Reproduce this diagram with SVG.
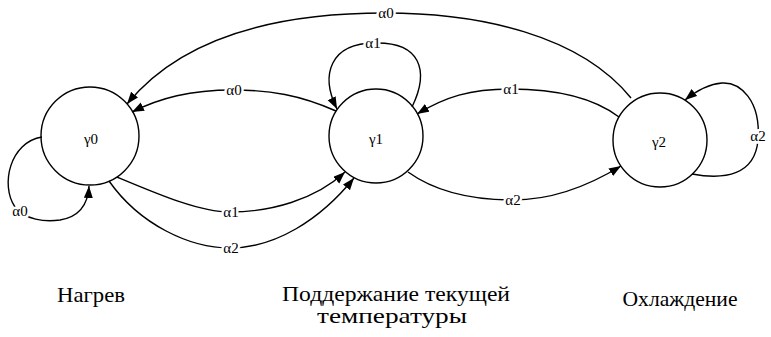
<svg xmlns="http://www.w3.org/2000/svg" width="771" height="337" viewBox="0 0 771 337">
<style>
.node{fill:none;stroke:#000;stroke-width:1.4}
.edge{fill:none;stroke:#000;stroke-width:1.4;marker-end:url(#arr)}
text{font-family:'Liberation Serif','Times New Roman',Times,serif;fill:#000;text-anchor:middle}
.lbl{font-size:15px;stroke:#fff;stroke-width:5;paint-order:stroke}
.nl{font-size:15px}
.cap{font-size:21px}
</style>
<defs>
<marker id="arr" markerUnits="userSpaceOnUse" markerWidth="13" markerHeight="10" refX="12" refY="4.5" orient="auto">
<path d="M0,0 L12,4.5 L0,9 z" fill="#000"/>
</marker>
</defs>
<rect width="771" height="337" fill="#fff"/>
<g id="edges">
<path class="edge" d="M631,98 C580,35 480,13 385,13 C260,13 175,45 127,104"/>
<text class="lbl" x="386" y="18">α0</text>
<path class="edge" d="M336,111 C300,95 270,90 233,90 C190,90 160,98 132,112"/>
<text class="lbl" x="234" y="95">α0</text>
<path class="edge" d="M412,107 C430,70 420,42 375,43 C330,43 320,75 337,109"/>
<text class="lbl" x="373" y="48">α1</text>
<path class="edge" d="M619,117 C590,95 550,89 510,89 C470,89 445,97 417,114"/>
<text class="lbl" x="511" y="94">α1</text>
<path class="edge" d="M692,174 C725,180 755,175 758,140 C761,100 740,82 722,83 C708,84 695,92 685,100"/>
<text class="lbl" x="758" y="141">α2</text>
<path class="edge" d="M408,172 C440,195 480,200 513,200 C555,200 590,185 621,166"/>
<text class="lbl" x="513" y="205">α2</text>
<path class="edge" d="M42,137 C10,142 0,185 15,207 C25,220 45,222 60,220 C78,217 88,205 89,186"/>
<text class="lbl" x="20" y="216">α0</text>
<path class="edge" d="M117,177 C160,195 200,212 230,212 C270,212 315,200 345,172"/>
<text class="lbl" x="231" y="217">α1</text>
<path class="edge" d="M109,181 C140,225 190,248 230,248 C275,248 320,220 354,178"/>
<text class="lbl" x="231" y="253">α2</text>
</g>
<g id="y0">
<circle class="node" cx="90" cy="136" r="49"/>
<text class="nl" x="91" y="144">γ0</text>
</g>
<g id="y1">
<circle class="node" cx="376" cy="136" r="47"/>
<text class="nl" x="376" y="144">γ1</text>
</g>
<g id="y2">
<circle class="node" cx="660" cy="140" r="47"/>
<text class="nl" x="659" y="147">γ2</text>
</g>
<g id="captions">
<text class="cap" x="91" y="302" textLength="68" lengthAdjust="spacingAndGlyphs">Нагрев</text>
<text class="cap" x="396" y="301" textLength="228" lengthAdjust="spacingAndGlyphs">Поддержание текущей</text>
<text class="cap" x="392" y="323" textLength="150" lengthAdjust="spacingAndGlyphs">температуры</text>
<text class="cap" x="680" y="306" textLength="115" lengthAdjust="spacingAndGlyphs">Охлаждение</text>
</g>
</svg>
